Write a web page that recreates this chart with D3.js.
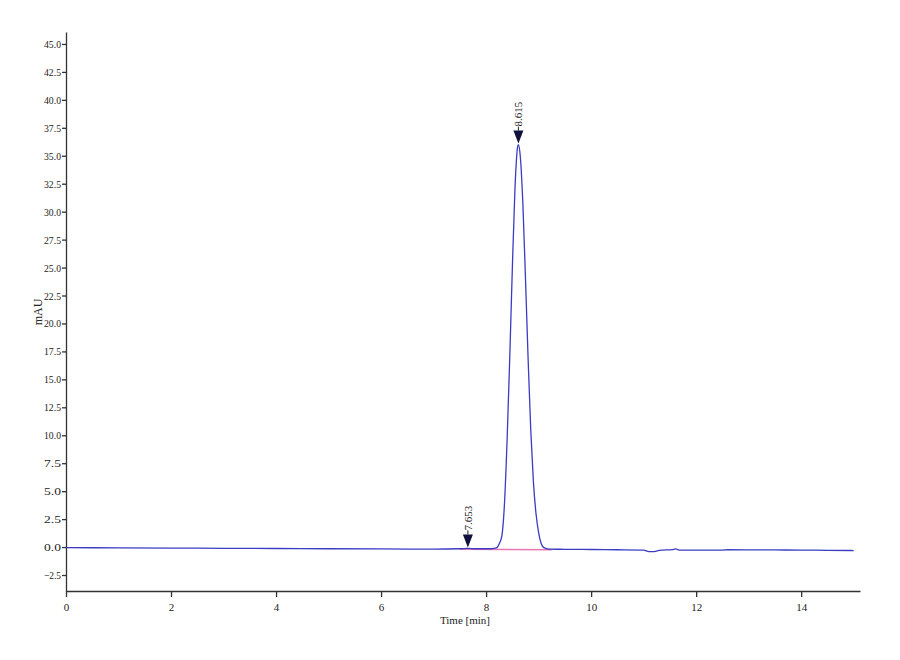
<!DOCTYPE html>
<html><head><meta charset="utf-8">
<script src="https://cdn.jsdelivr.net/npm/d3@7"></script>
<style>body{margin:0;background:#fff}svg{display:block}svg text{font-family:"Liberation Serif","Times New Roman",serif}</style>
</head><body>
<svg id="c" width="900" height="660"></svg>
<script>
// Chromatogram trace (time in min, absorbance in mAU)
const times = [0, 1, 2, 3, 4, 5, 6, 7, 7.5, 7.653, 7.8, 8.1, 8.2, 8.25, 8.3, 8.35, 8.4, 8.45, 8.5, 8.55, 8.6, 8.615, 8.65, 8.7, 8.75, 8.8, 8.85, 8.9, 8.95, 9.0, 9.05, 9.1, 9.2, 9.5, 10, 10.5, 11, 11.1, 11.2, 11.3, 11.55, 11.6, 11.7, 12.0, 12.5, 12.6, 13, 13.5, 14, 14.5, 15];
const mAU   = [-0.05, -0.07, -0.09, -0.11, -0.13, -0.15, -0.17, -0.18, -0.15, -0.12, -0.15, -0.15, -0.08, 0.3, 1.0, 3.9, 9.6, 16.9, 25.0, 32.1, 35.8, 36.0, 35.0, 30.7, 24.0, 16.8, 10.5, 5.9, 3.0, 1.3, 0.3, -0.05, -0.18, -0.2, -0.22, -0.24, -0.27, -0.4, -0.4, -0.3, -0.22, -0.17, -0.27, -0.27, -0.27, -0.24, -0.25, -0.26, -0.27, -0.29, -0.31];
// Integration baseline (pink)
const baseT = [7.5, 9.25];
const baseV = [-0.2, -0.24];
// Peak annotations
const peakT = [7.653, 8.615];
const peakV = [-0.12, 36.0];
const peakLabels = ["7.653", "8.615"];
// Axis ticks
const xTicks = [0, 2, 4, 6, 8, 10, 12, 14];
const yTicks = [-2.5, 0, 2.5, 5, 7.5, 10, 12.5, 15, 17.5, 20, 22.5, 25, 27.5, 30, 32.5, 35, 37.5, 40, 42.5, 45];

const svg = d3.select("#c");
const x = d3.scaleLinear().domain([0, 15.12]).range([66, 860]);
const y = d3.scaleLinear().domain([-3.93, 46.07]).range([591, 32]);
const font = '"Liberation Serif", "Times New Roman", serif';

const xAxis = svg.append("g").attr("transform", "translate(0,591)")
  .call(d3.axisBottom(x).tickValues(xTicks).tickFormat(d3.format("d")).tickSize(6).tickSizeOuter(0).tickPadding(6));
const yAxis = svg.append("g").attr("transform", "translate(66,0)")
  .call(d3.axisLeft(y).tickValues(yTicks).tickFormat(d3.format(".1f")).tickSize(4).tickSizeOuter(0).tickPadding(1));
[xAxis, yAxis].forEach(a => {
  a.attr("font-family", null);
  a.selectAll("path,line").attr("stroke", "#333").attr("stroke-width", 1.3);
  a.selectAll("text").style("font-family", font).attr("font-size", 11).attr("fill", "#222");
});
yAxis.selectAll("text").attr("textLength", 17).attr("lengthAdjust", "spacingAndGlyphs");

svg.append("text").attr("x", 465).attr("y", 624).attr("text-anchor", "middle")
  .style("font-family", font).attr("font-size", 11).attr("fill", "#222").text("Time [min]");
svg.append("text").attr("transform", "translate(42,312) rotate(-90)").attr("text-anchor", "middle")
  .style("font-family", font).attr("font-size", 12).attr("fill", "#222").text("mAU");

// pink baseline
svg.append("path").datum(baseT.map((t, i) => [t, baseV[i]]))
  .attr("d", d3.line().x(d => x(d[0])).y(d => y(d[1])))
  .attr("fill", "none").attr("stroke", "#e878b4").attr("stroke-width", 1.5);

// trace
svg.append("path").datum(times.map((t, i) => [t, mAU[i]]))
  .attr("d", d3.line().x(d => x(d[0])).y(d => y(d[1])).curve(d3.curveMonotoneX))
  .attr("fill", "none").attr("stroke", "#3b3bc4").attr("stroke-width", 1.3);

// peak markers
peakT.forEach((t, i) => {
  const px = x(t), py = y(peakV[i]) - 1;
  svg.append("path").attr("d", `M${px},${py}L${px - 5},${py - 13}L${px + 5},${py - 13}Z`).attr("fill", "#10103c");
  svg.append("line").attr("x1", px).attr("x2", px).attr("y1", py - 13).attr("y2", py - 17)
    .attr("stroke", "#222").attr("stroke-width", 1);
  svg.append("text").attr("transform", `translate(${px + 4},${py - 17}) rotate(-90)`)
    .style("font-family", font).attr("font-size", 11).attr("fill", "#222").text(peakLabels[i]);
});
</script>
</body></html>
